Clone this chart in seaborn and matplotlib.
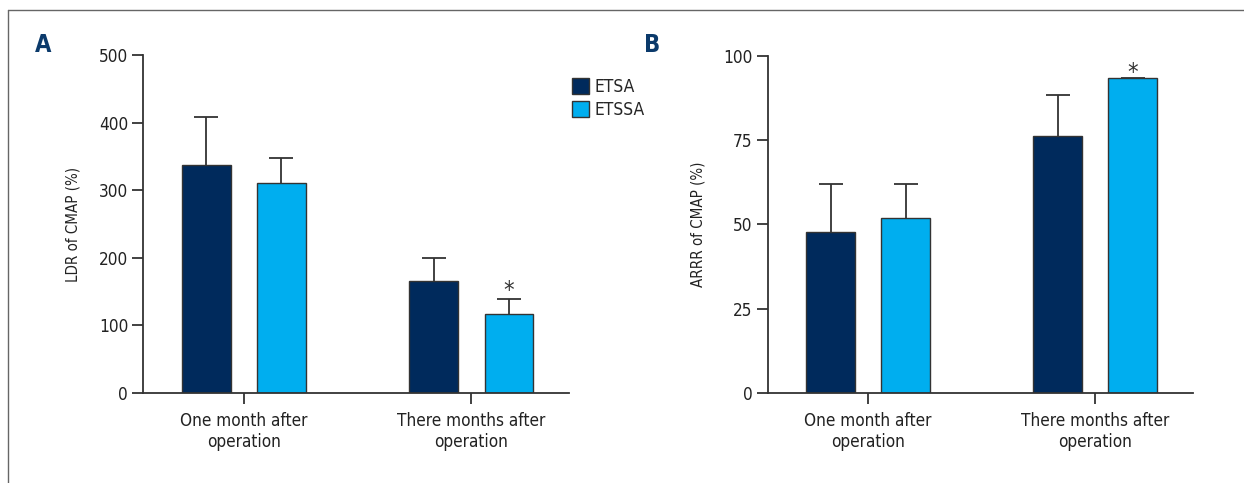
import matplotlib
matplotlib.use("Agg")
import matplotlib.pyplot as plt
import seaborn as sns
import pandas as pd
from matplotlib.lines import Line2D

sns.set_theme(style="white")
plt.rcParams['font.family'] = ['DejaVu Sans']
plt.rcParams['font.stretch'] = 'condensed'

categories = ["One month after\noperation", "There months after\noperation"]
groups = ["ETSA", "ETSSA"]
ldr_etsa = [337, 166]
ldr_etssa = [310, 117]
ldr_err_etsa = [71, 34]
ldr_err_etssa = [38, 22]
arrr_etsa = [47.8, 76.2]
arrr_etssa = [52.0, 93.4]
arrr_err_etsa = [14.2, 12.2]
arrr_err_etssa = [10.0, 0.0]
ldr_ticks = [0, 100, 200, 300, 400, 500]
arrr_ticks = [0, 25, 50, 75, 100]

colors = ["#002a5c", "#00aeef"]
dark = "#333333"

fig = plt.figure(figsize=(12.44, 4.83), dpi=100)

def panel(rect, etsa, etssa, err_etsa, err_etssa, ticks, ylabel, star_idx, star_off):
    ax = fig.add_axes(rect)
    df = pd.DataFrame({
        "cat": categories * 2,
        "grp": [groups[0]] * 2 + [groups[1]] * 2,
        "val": list(etsa) + list(etssa),
    })
    sns.barplot(data=df, x="cat", y="val", hue="grp", hue_order=groups,
                palette=colors, saturation=1, width=0.66, gap=0.35,
                errorbar=None, edgecolor=dark, linewidth=1.0, legend=False, ax=ax)
    errs = [err_etsa, err_etssa]
    for cont, er in zip(ax.containers, errs):
        xs = [p.get_x() + p.get_width() / 2 for p in cont.patches]
        hs = [p.get_height() for p in cont.patches]
        eb = ax.errorbar(xs, hs, yerr=[[0] * len(er), er], fmt="none",
                         ecolor=dark, elinewidth=1.3, capsize=8.5, capthick=1.3,
                         zorder=0.5)
        caps = eb[1]
        if len(caps) == 2:
            caps[0].set_visible(False)
    cont = ax.containers[1]
    p = cont.patches[star_idx]
    top = p.get_height() + errs[1][star_idx]
    ax.annotate("*", (p.get_x() + p.get_width() / 2, top), xytext=(0, star_off),
                textcoords="offset points", ha="center", va="bottom",
                fontsize=17, color=dark)
    ax.set_xlim(-0.44, 1.43)
    ax.set_ylim(ticks[0], ticks[-1])
    ax.set_yticks(ticks)
    ax.set_xlabel("")
    ax.set_ylabel(ylabel, fontsize=10.8, color="#222222", labelpad=13)
    for s in ["top", "right"]:
        ax.spines[s].set_visible(False)
    for s in ["left", "bottom"]:
        ax.spines[s].set_color(dark)
        ax.spines[s].set_linewidth(1.3)
    ax.tick_params(axis="both", which="major", direction="out", length=8,
                   width=1.3, color=dark, labelsize=12.3, labelcolor="#222222", pad=3,
                   left=True, bottom=True)
    ax.tick_params(axis="x", pad=6)
    ax.spines["left"].set_bounds(ticks[0], ticks[-1])
    return ax

axA = panel([0.1153, 0.1863, 0.3424, 0.6997], ldr_etsa, ldr_etssa, ldr_err_etsa,
            ldr_err_etssa, ldr_ticks, "LDR of CMAP (%)", 1, -3)
axB = panel([0.6174, 0.1870, 0.3416, 0.6966], arrr_etsa, arrr_etssa, arrr_err_etsa,
            arrr_err_etssa, arrr_ticks, "ARRR of CMAP (%)", 1, -5)

fig.text(35 / 1244, 1 - 52 / 483, "A", fontsize=17, fontweight="bold",
         color="#0b3a6b")
fig.text(644 / 1244, 1 - 52 / 483, "B", fontsize=17, fontweight="bold",
         color="#0b3a6b")

handles = [axA.containers[0].patches[0], axA.containers[1].patches[0]]
leg = fig.legend(handles, groups, loc="upper left",
                 bbox_to_anchor=(565 / 1244, 1 - 71 / 483), frameon=False,
                 fontsize=12.5, handlelength=1.0, handleheight=1.0,
                 handletextpad=0.3, labelspacing=0.3, borderaxespad=0)

fig.add_artist(Line2D([8 / 1244, 1], [1 - 10 / 483, 1 - 10 / 483],
                      transform=fig.transFigure, color="#666666", lw=1.0))
fig.add_artist(Line2D([8 / 1244, 8 / 1244], [0, 1 - 10 / 483],
                      transform=fig.transFigure, color="#666666", lw=1.0))

fig.savefig("out.png", dpi=100)
